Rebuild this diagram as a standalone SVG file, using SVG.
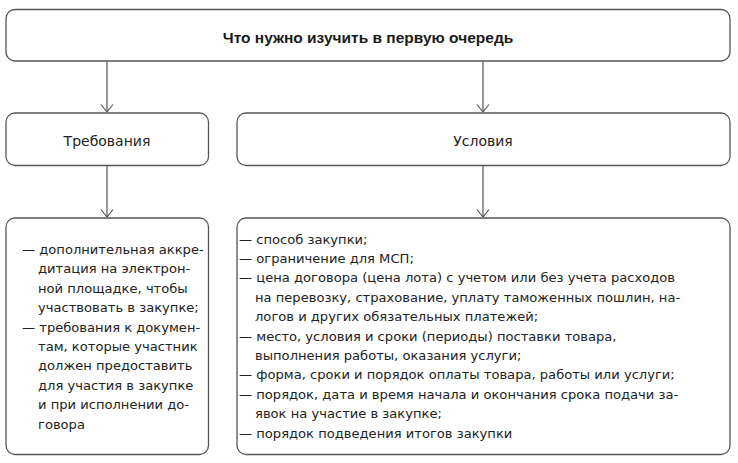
<svg xmlns="http://www.w3.org/2000/svg" width="738" height="463" viewBox="0 0 738 463">
<style>
.box{fill:#fff;stroke:#555;stroke-width:1.3}
.t{font-family:"DejaVu Sans","Noto Sans",sans-serif;font-size:13.1px;fill:#222}
.h{font-family:"Liberation Sans",Arial,sans-serif;font-size:15.5px;font-weight:bold;fill:#1a1a1a}
.m{font-family:"DejaVu Sans","Noto Sans",sans-serif;font-size:14px;fill:#222}
.c{fill:none;stroke:#555;stroke-width:1.2}
</style>
<defs>
<marker id="arr" viewBox="0 0 14 10" refX="7" refY="9.5" markerWidth="14" markerHeight="10" markerUnits="userSpaceOnUse" orient="0">
<path d="M1,2 L7,9.5 L13,2" fill="none" stroke="#555" stroke-width="1.2"/>
</marker>
</defs>
<rect width="738" height="463" fill="#fff"/>
<g id="connectors">
<line class="c" x1="107" y1="61" x2="107" y2="112" marker-end="url(#arr)"/>
<line class="c" x1="483" y1="61" x2="483" y2="112" marker-end="url(#arr)"/>
<line class="c" x1="107" y1="165" x2="107" y2="217" marker-end="url(#arr)"/>
<line class="c" x1="483" y1="165" x2="483" y2="217" marker-end="url(#arr)"/>
</g>
<g id="top">
<rect class="box" x="6" y="9.5" width="724" height="51.5" rx="9"/>
<text class="h" x="368" y="43" text-anchor="middle">Что нужно изучить в первую очередь</text>
</g>
<g id="req">
<rect class="box" x="6" y="113" width="202.5" height="52.5" rx="9"/>
<text class="m" x="107" y="145.5" text-anchor="middle">Требования</text>
</g>
<g id="cond">
<rect class="box" x="237" y="113" width="493" height="52.5" rx="9"/>
<text class="m" x="483" y="145.5" text-anchor="middle">Условия</text>
</g>
<g id="req-list">
<rect class="box" x="6" y="218" width="202.5" height="236.5" rx="9"/>
<text class="t">
<tspan x="22" y="254">— дополнительная аккре-</tspan>
<tspan x="38" y="273.4">дитация на электрон-</tspan>
<tspan x="38" y="292.8">ной площадке, чтобы</tspan>
<tspan x="38" y="312.2">участвовать в закупке;</tspan>
<tspan x="22" y="331.6">— требования к докумен-</tspan>
<tspan x="38" y="351">там, которые участник</tspan>
<tspan x="38" y="370.4">должен предоставить</tspan>
<tspan x="38" y="389.8">для участия в закупке</tspan>
<tspan x="38" y="409.2">и при исполнении до-</tspan>
<tspan x="38" y="428.6">говора</tspan>
</text>
</g>
<g id="cond-list">
<rect class="box" x="237" y="218" width="493" height="236.5" rx="9"/>
<text class="t">
<tspan x="239" y="243.5">— способ закупки;</tspan>
<tspan x="239" y="262.9">— ограничение для МСП;</tspan>
<tspan x="239" y="282.3">— цена договора (цена лота) с учетом или без учета расходов</tspan>
<tspan x="255" y="301.7">на перевозку, страхование, уплату таможенных пошлин, на-</tspan>
<tspan x="255" y="321.1">логов и других обязательных платежей;</tspan>
<tspan x="239" y="340.5">— место, условия и сроки (периоды) поставки товара,</tspan>
<tspan x="255" y="359.9">выполнения работы, оказания услуги;</tspan>
<tspan x="239" y="379.3">— форма, сроки и порядок оплаты товара, работы или услуги;</tspan>
<tspan x="239" y="398.7">— порядок, дата и время начала и окончания срока подачи за-</tspan>
<tspan x="255" y="418.1">явок на участие в закупке;</tspan>
<tspan x="239" y="437.5">— порядок подведения итогов закупки</tspan>
</text>
</g>
</svg>
